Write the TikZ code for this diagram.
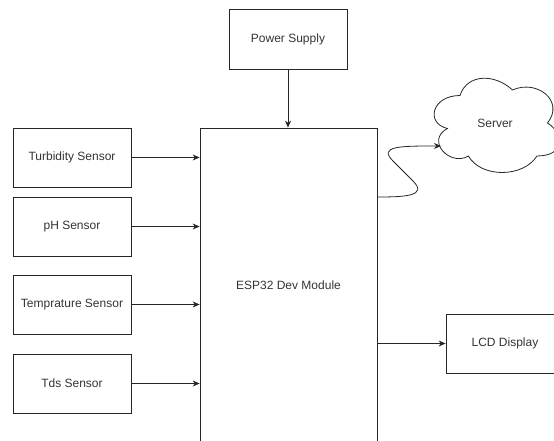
\documentclass[tikz,border=0pt]{standalone}
\usepackage{fontspec}
\setmainfont{Liberation Sans}
\usetikzlibrary{arrows.meta}

\begin{document}
\begin{tikzpicture}[x=1pt, y=-1pt, line width=0.8pt,
        every node/.style={font=\fontsize{12}{14}\selectfont, text=black!80, inner sep=1pt},
        box/.style={draw=black!85, minimum width=118pt, minimum height=59pt},
        link/.style={draw=black!85, -{Stealth[length=7pt,width=6pt]}}]
        \useasboundingbox (0,0) rectangle (554,441);

        % Main module (runs off the bottom edge)
        \node[box, minimum width=177pt, minimum height=314pt] (esp) at (288.5,285) {ESP32 Dev Module};

        % Power on top
        \node[box, minimum height=60pt] (power) at (288,39) {Power Supply};

        % Sensors on the left
        \node[box] (turb) at (72,157.5) {Turbidity Sensor};
        \node[box] (ph)   at (72,226.5) {pH Sensor};
        \node[box] (temp) at (72,304.5) {Temprature Sensor};
        \node[box] (tds)  at (72,383.5) {Tds Sensor};

        % Display on the right
        \node[box] (lcd) at (505,343.5) {LCD Display};

        % Server cloud
        \draw[black!85] (460,95.5)
            .. controls (432,95.5) and (425,123) .. (447.4,128.5)
            .. controls (425,140.6) and (450.2,167) .. (468.4,156)
            .. controls (481,178) and (523,178) .. (537,156)
            .. controls (565,156) and (565,134) .. (547.5,123)
            .. controls (565,101) and (537,79) .. (512.5,90)
            .. controls (495,73.5) and (467,73.5) .. (460,95.5) -- cycle;
        \node (server) at (495,123) {Server};
        \coordinate (srvin) at (441,146);

        % Connections
        \draw[link] (power) -- (esp.north -| power);
        \draw[link] (turb.east) -- (turb.east -| esp.west);
        \draw[link] (ph.east) -- (ph.east -| esp.west);
        \draw[link] (temp.east) -- (temp.east -| esp.west);
        \draw[link] (tds.east) -- (tds.east -| esp.west);
        \draw[link] (esp.east |- lcd) -- (lcd.west);
        \draw[link] (esp.east |- 0,197) .. controls (405,197) and (428,196) .. (413,181)
            -- (393,161) .. controls (378,146) and (400,146) .. (srvin);
    \end{tikzpicture}
\end{document}
